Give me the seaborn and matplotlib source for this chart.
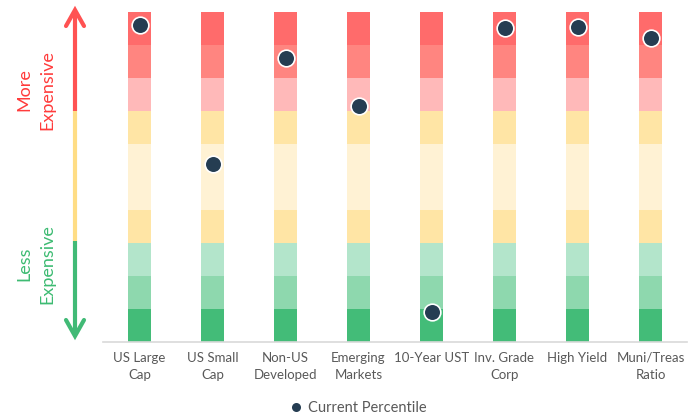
import matplotlib
matplotlib.use("Agg")
import matplotlib.pyplot as plt
from matplotlib.lines import Line2D
import seaborn as sns
import pandas as pd

categories = ["US Large\nCap", "US Small\nCap", "Non-US\nDeveloped", "Emerging\nMarkets",
              "10-Year UST", "Inv. Grade\nCorp", "High Yield", "Muni/Treas\nRatio"]
current_percentile = [96, 54, 86, 71.5, 9, 95, 95.5, 92]
band_tops = [10, 20, 30, 40, 60, 70, 80, 90, 100]
band_colors = ["#43BC78", "#8ED8AE", "#B3E5CB", "#FFE5A5", "#FFF2D4",
               "#FFE5A5", "#FFB9B9", "#FF8580", "#FF6B6B"]

sns.set_theme(style="white")
plt.rcParams['font.family'] = ['Lato', 'DejaVu Sans']

fig = plt.figure(figsize=(6.94, 4.19), dpi=100)
ax = fig.add_axes([103/694, 77/419, 584/694, 330/419])

# stacked bands: draw from top value down so lower bands overlay
for top, col in sorted(zip(band_tops, band_colors), key=lambda t: -t[0]):
    df = pd.DataFrame({"cat": categories, "val": [top]*len(categories)})
    sns.barplot(data=df, x="cat", y="val", color=col, width=0.31, ax=ax,
                saturation=1, linewidth=0, order=categories)

dots = pd.DataFrame({"cat": categories, "pct": current_percentile})
sns.stripplot(data=dots, x="cat", y="pct", jitter=False, order=categories,
              color="#253D52", size=12, edgecolor="white", linewidth=1.2, ax=ax, zorder=5)

ax.set_xlim(-0.5, len(categories)-0.5)
ax.set_ylim(0, 100)
ax.set_xlabel("")
ax.set_ylabel("")
ax.set_yticks([])
for s in ["top", "right", "left"]:
    ax.spines[s].set_visible(False)
ax.spines["bottom"].set_color("#D9D9D9")
ax.spines["bottom"].set_linewidth(1.2)
ax.tick_params(axis="x", length=0, pad=7, labelsize=9.5, labelcolor="#595959")
for lbl in ax.get_xticklabels():
    lbl.set_linespacing(1.55)

# decoration overlay in pixel coords
ov = fig.add_axes([0, 0, 1, 1], facecolor="none")
ov.set_xlim(0, 694)
ov.set_ylim(419, 0)
ov.axis("off")
red, yel, grn = "#FF5252", "#FFDD85", "#41BA76"
ax_x = 75
ov.plot([ax_x, ax_x], [11, 111], color=red, lw=3, solid_capstyle="butt")
ov.plot([ax_x, ax_x], [111, 241], color=yel, lw=3, solid_capstyle="butt")
ov.plot([ax_x, ax_x], [241, 334], color=grn, lw=3, solid_capstyle="butt")
ov.plot([ax_x-9, ax_x, ax_x+9], [26, 10, 26], color=red, lw=3, solid_joinstyle="miter")
ov.plot([ax_x-9, ax_x, ax_x+9], [320, 336, 320], color=grn, lw=3, solid_joinstyle="miter")

fs = 13
ov.text(24, 90, "More", rotation=90, ha="center", va="center", color="#FF3B3B", fontsize=fs)
ov.text(47, 90, "Expensive", rotation=90, ha="center", va="center", color="#FF3B3B", fontsize=fs)
ov.text(24, 264, "Less", rotation=90, ha="center", va="center", color="#3DBB72", fontsize=fs)
ov.text(47, 264, "Expensive", rotation=90, ha="center", va="center", color="#3DBB72", fontsize=fs)

handle = Line2D([], [], marker="o", linestyle="none", color="#253D52",
                markersize=6.5, markeredgewidth=0)
fig.legend([handle], ["Current Percentile"], loc="center", bbox_to_anchor=(358/694, 11/419),
           frameon=False, fontsize=10.5, labelcolor="#595959", handletextpad=0.3,
           handlelength=1.0)

fig.savefig("out.png", dpi=100)
